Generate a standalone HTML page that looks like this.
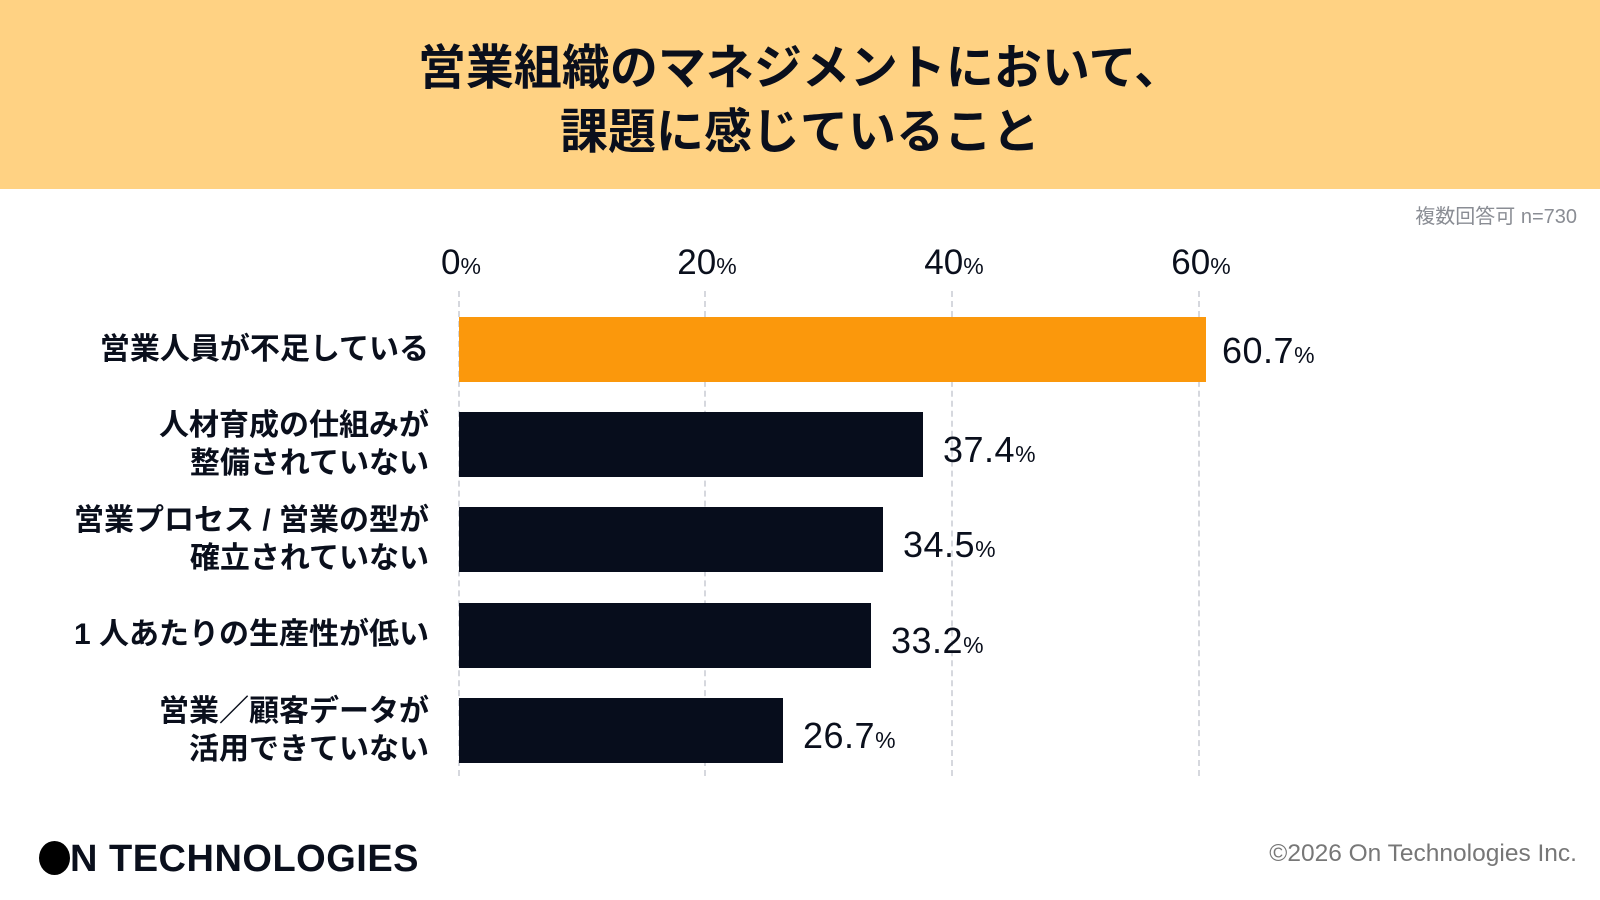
<!DOCTYPE html>
<html><head><meta charset="utf-8"><style>
*{margin:0;padding:0;box-sizing:border-box}
body{width:1600px;height:900px;background:#fff;position:relative;overflow:hidden;font-family:"Liberation Sans","Noto Sans CJK JP",sans-serif;color:#0a0f1c}
.hdr{position:absolute;left:0;top:0;width:1600px;height:189px;background:#FFD283}
.title{position:absolute;left:0;width:1600px;text-align:center;font-weight:bold;font-size:48px;line-height:64px;top:37px}
.abs{position:absolute;white-space:nowrap}
.grid{position:absolute;top:291px;height:485px;border-left:2px dashed #d6d8de;width:0}
.tick{position:absolute;top:243px;font-size:35px;transform:translateX(-50%)}
.tick small,.val small{font-size:23px}
.bar{position:absolute;left:459px;height:65px;background:#070d1c}
.val{position:absolute;font-size:36px;line-height:65px;letter-spacing:0.5px}
.cat{position:absolute;right:1171px;text-align:right;font-size:30px;font-weight:bold;line-height:38px;white-space:nowrap}
</style></head><body>
<div class="hdr"></div>
<div class="title">営業組織のマネジメントにおいて、<br>課題に感じていること</div>
<div class="abs" style="right:23px;top:200px;font-size:20px;color:#8a8d94">複数回答可 n=730</div>
<div class="grid" style="left:458px"></div>
<div class="grid" style="left:704px"></div>
<div class="grid" style="left:951px"></div>
<div class="grid" style="left:1198px"></div>
<div class="tick" style="left:461px">0<small>%</small></div>
<div class="tick" style="left:707px">20<small>%</small></div>
<div class="tick" style="left:954px">40<small>%</small></div>
<div class="tick" style="left:1201px">60<small>%</small></div>

<div class="bar" style="top:317px;width:747px;background:#FB980C"></div>
<div class="val" style="top:318px;left:1222px">60.7<small>%</small></div>
<div class="cat" style="top:331px">営業人員が不足している</div>

<div class="bar" style="top:412px;width:464px"></div>
<div class="val" style="top:417px;left:943px">37.4<small>%</small></div>
<div class="cat" style="top:407px">人材育成の仕組みが<br>整備されていない</div>

<div class="bar" style="top:507px;width:424px"></div>
<div class="val" style="top:512px;left:903px">34.5<small>%</small></div>
<div class="cat" style="top:502px">営業プロセス&nbsp;/&nbsp;営業の型が<br>確立されていない</div>

<div class="bar" style="top:603px;width:412px"></div>
<div class="val" style="top:608px;left:891px">33.2<small>%</small></div>
<div class="cat" style="top:616px">1 人あたりの生産性が低い</div>

<div class="bar" style="top:698px;width:324px"></div>
<div class="val" style="top:703px;left:803px">26.7<small>%</small></div>
<div class="cat" style="top:693px">営業／顧客データが<br>活用できていない</div>

<div class="abs" style="left:39px;top:838px;font-size:38px;font-weight:bold;letter-spacing:0.5px;line-height:42px"><span style="display:inline-block;width:31px;height:34px;border-radius:50%;background:#000;vertical-align:-4px;margin-right:0px"></span>N TECHNOLOGIES</div>
<div class="abs" style="right:23px;top:840px;font-size:24.5px;color:#777">©2026 On Technologies Inc.</div>
</body></html>
